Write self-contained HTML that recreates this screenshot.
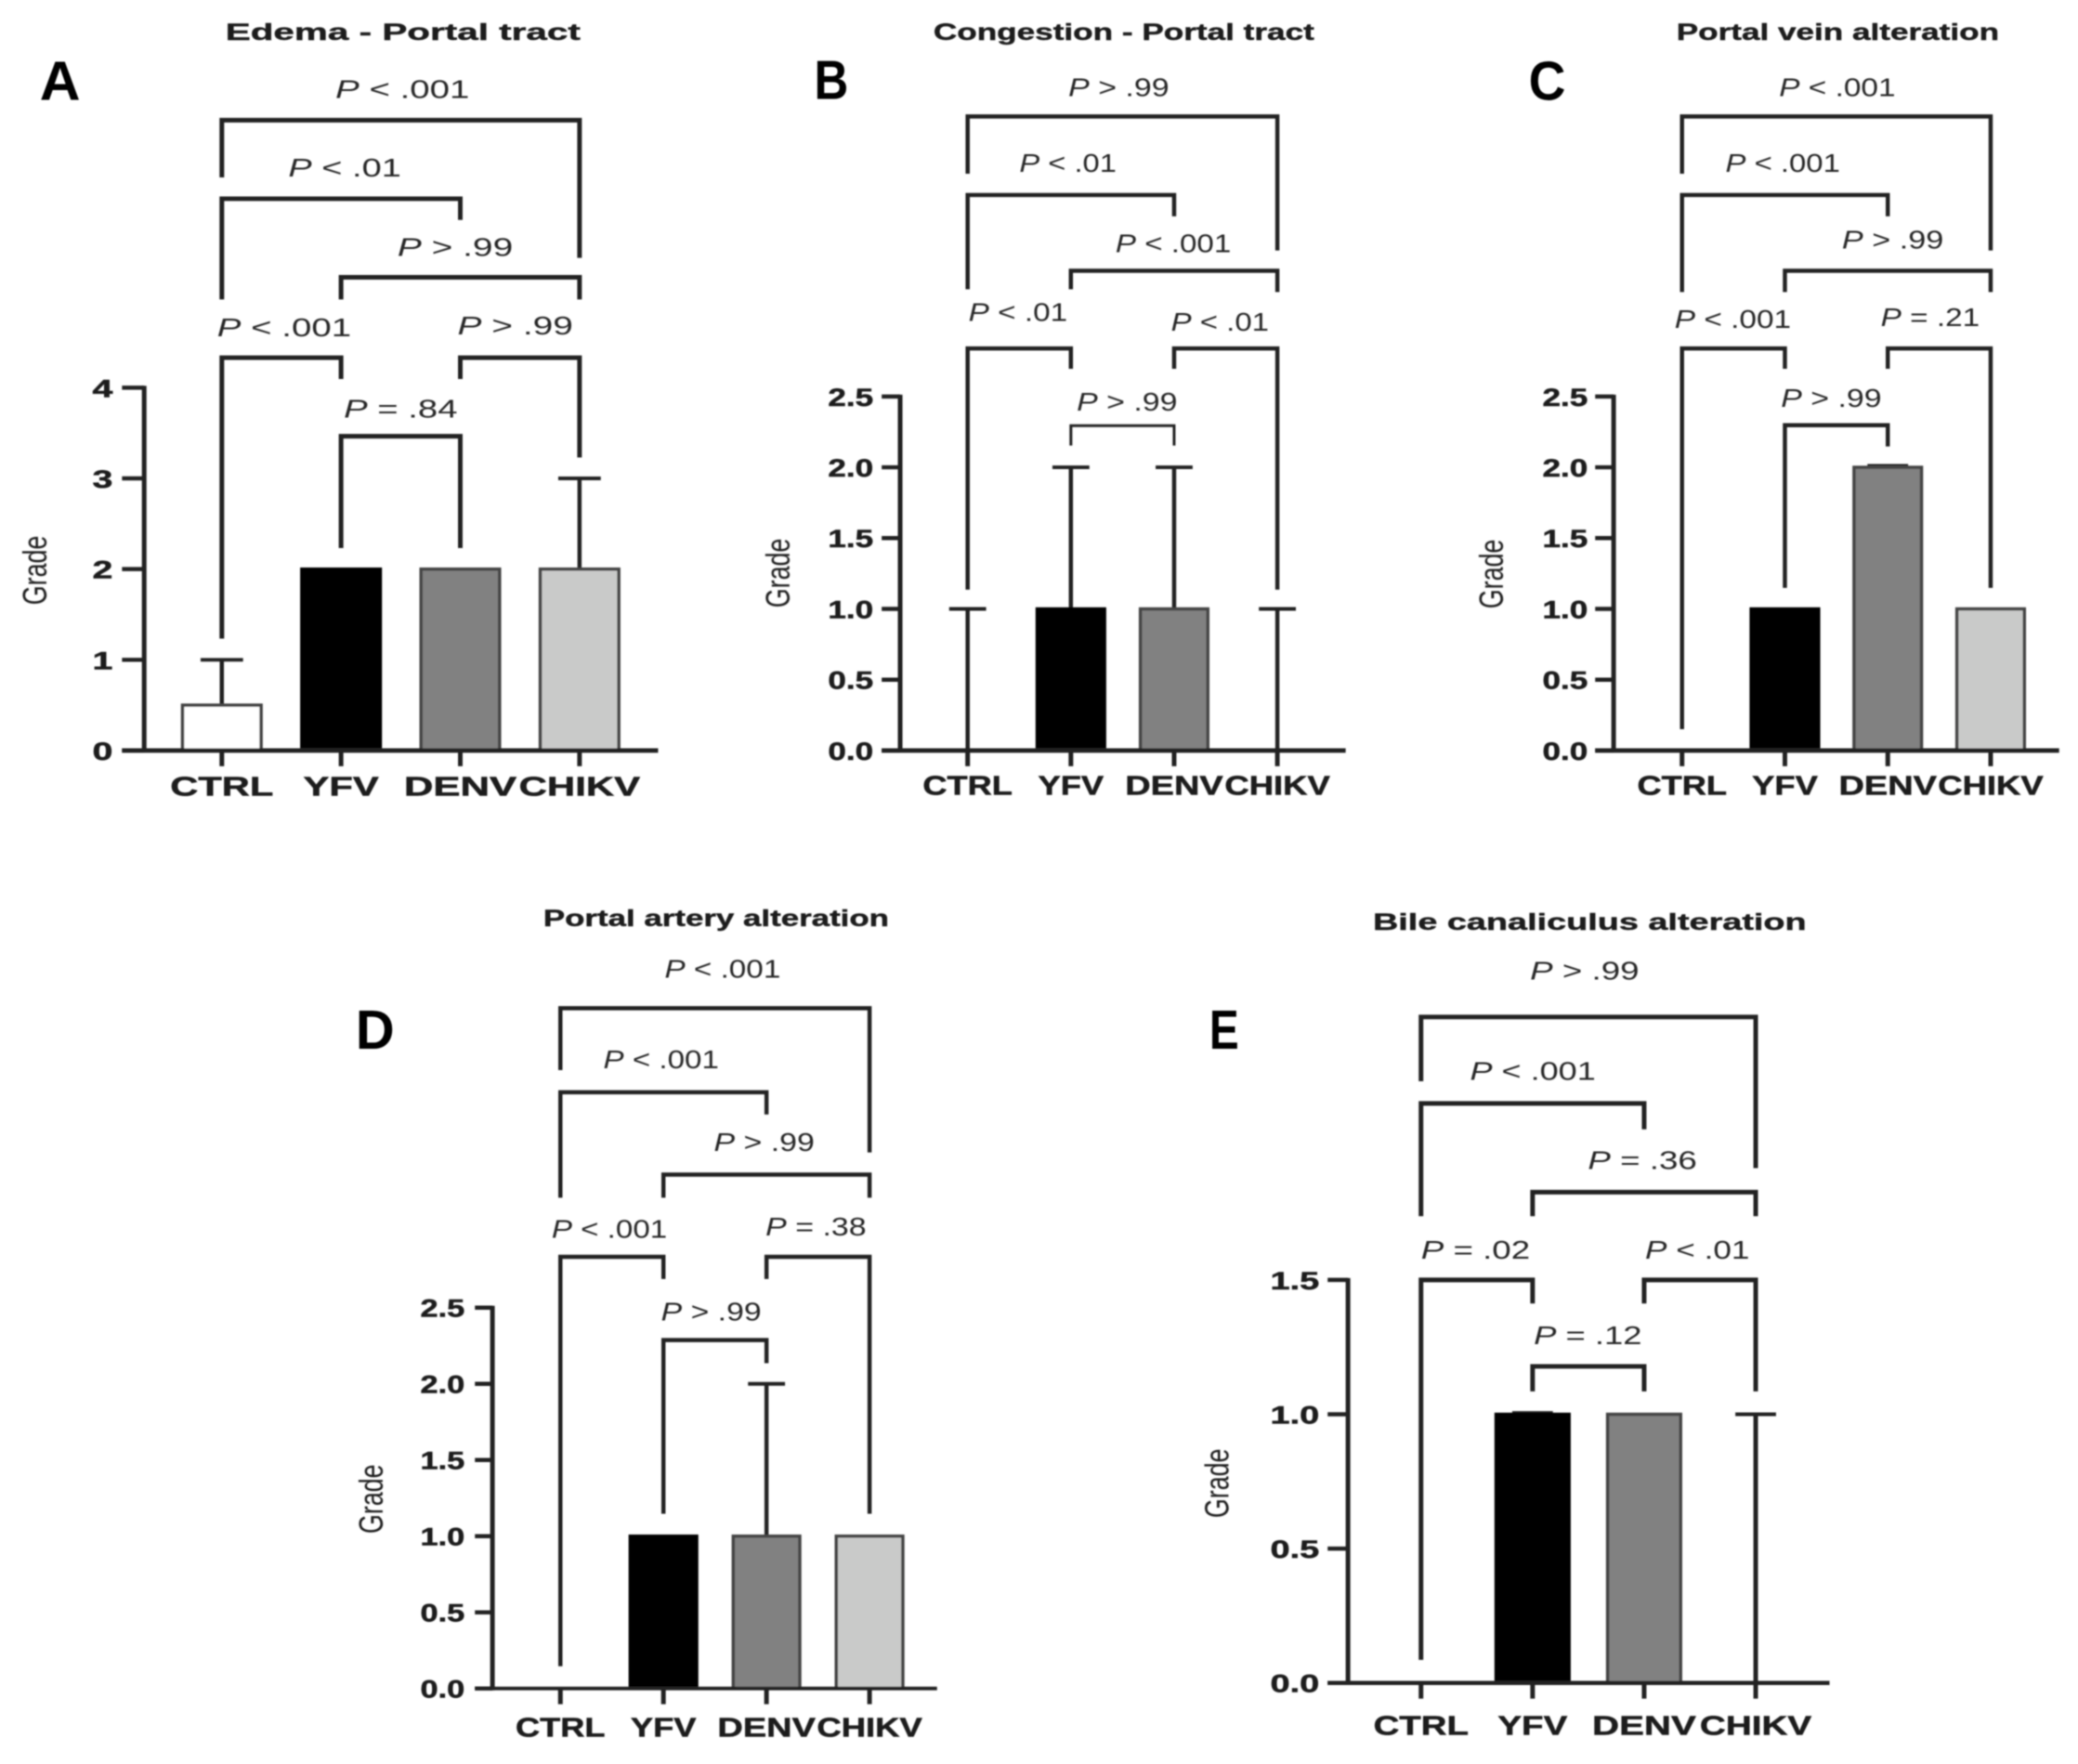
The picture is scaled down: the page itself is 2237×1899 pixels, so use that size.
<!DOCTYPE html>
<html lang="en">
<head>
<meta charset="utf-8">
<title>Histopathological grades by virus group</title>
<style>
html,body{margin:0;padding:0;background:#fff;}
svg{display:block;font-family:"Liberation Sans",Arial,sans-serif;}
</style>
</head>
<body>
<svg id="figure" width="2237" height="1899" viewBox="0 0 2237 1899" xmlns="http://www.w3.org/2000/svg">
<defs><filter id="soft" x="-2%" y="-2%" width="104%" height="104%"><feGaussianBlur stdDeviation="0.7"/></filter></defs>
<rect width="2237" height="1899" fill="#fff"/>
<g id="root" filter="url(#soft)"></g>
</svg>
<script>
const categories = ['CTRL', 'YFV', 'DENV', 'CHIKV'];
const barFills = ['#ffffff', '#030303', '#818181', '#c9cac9'];

const panelAValues = [0.5, 2, 2, 2];
const panelAErrorTops = [1, 2, 2, 3];
const panelATicks = [0, 1, 2, 3, 4];
const panelATickLabels = ['0', '1', '2', '3', '4'];
const panelAPLabels = ['< .001', '< .01', '> .99', '< .001', '> .99', '= .84'];

const panelBValues = [0, 1, 1, 0];
const panelBErrorTops = [1, 2, 2, 1];
const panelBTicks = [0, 0.5, 1, 1.5, 2, 2.5];
const panelBTickLabels = ['0.0', '0.5', '1.0', '1.5', '2.0', '2.5'];
const panelBPLabels = ['> .99', '< .01', '< .001', '< .01', '< .01', '> .99'];

const panelCValues = [0, 1, 2, 1];
const panelCErrorTops = [0, 1, 2.01, 1];
const panelCTicks = [0, 0.5, 1, 1.5, 2, 2.5];
const panelCTickLabels = ['0.0', '0.5', '1.0', '1.5', '2.0', '2.5'];
const panelCPLabels = ['< .001', '< .001', '> .99', '< .001', '= .21', '> .99'];

const panelDValues = [0, 1, 1, 1];
const panelDErrorTops = [0, 1, 2, 1];
const panelDTicks = [0, 0.5, 1, 1.5, 2, 2.5];
const panelDTickLabels = ['0.0', '0.5', '1.0', '1.5', '2.0', '2.5'];
const panelDPLabels = ['< .001', '< .001', '> .99', '< .001', '= .38', '> .99'];

const panelEValues = [0, 1, 1, 0];
const panelEErrorTops = [0, 1.005, 1, 1];
const panelETicks = [0, 0.5, 1, 1.5];
const panelETickLabels = ['0.0', '0.5', '1.0', '1.5'];
const panelEPLabels = ['> .99', '< .001', '= .36', '= .02', '< .01', '= .12'];

const NS = 'http://www.w3.org/2000/svg';
const root = document.getElementById('root');
const INK = '#222';
const PANEL_SCALE = 0.995;

function mk(tag, parent, attrs) {
  const el = document.createElementNS(NS, tag);
  for (const k in attrs) el.setAttribute(k, attrs[k]);
  parent.appendChild(el);
  return el;
}
function seg(parent, x1, y1, x2, y2, w, color) {
  return mk('line', parent, {x1: x1, y1: y1, x2: x2, y2: y2, stroke: color || INK, 'stroke-width': w});
}

function drawPanel(p) {
  const ox = p.origin[0];
  const oy = p.origin[1];
  const g = mk('g', root, {transform: 'translate(' + ox + ' ' + oy + ') scale(' + PANEL_SCALE + ') translate(' + (-ox) + ' ' + (-oy) + ')'});
  
  

  const xScale = i => p.x0 + i * p.step;
  const yScale = v => p.yBottom - (v / p.yMax) * (p.yBottom - p.yTop);

  const title = mk('text', g, {x: p.title[1], y: p.title[2], 'font-size': 25, 'font-weight': 'bold', fill: '#1a1a1a', stroke: '#1a1a1a', 'stroke-width': 0.4, textLength: p.title[3], lengthAdjust: 'spacingAndGlyphs'});
  title.textContent = p.title[0];
  
  

  const letter = mk('text', g, {x: p.letter[1], y: p.letter[2], 'font-size': 60, 'font-weight': 'bold', fill: '#000', textLength: p.letter[3], lengthAdjust: 'spacingAndGlyphs'});
  letter.textContent = p.letter[0];
  
  

  const grade = mk('text', g, {x: 0, y: 0, 'font-size': 36, fill: '#1a1a1a', 'text-anchor': 'middle', textLength: 75, lengthAdjust: 'spacingAndGlyphs', transform: 'translate(' + p.grade[0] + ' ' + p.grade[1] + ') rotate(-90)'});
  grade.textContent = 'Grade';
  
  

  p.errorTops.forEach((top, i) => {
    if (top <= p.values[i]) return;
    const eg = mk('g', g, {});
    
    
    seg(eg, xScale(i), yScale(p.values[i]), xScale(i), yScale(top), p.errW);
    seg(eg, xScale(i) - p.capHalf, yScale(top), xScale(i) + p.capHalf, yScale(top), 4);
  });

  p.values.forEach((v, i) => {
    if (v <= 0) return;
    const bar = mk('rect', g, {x: xScale(i) - p.barW / 2, y: yScale(v), width: p.barW, height: yScale(0) - yScale(v), fill: barFills[i], stroke: i === 1 ? '#030303' : '#444', 'stroke-width': 3.5});
    
    
  });

  const yAxis = seg(g, p.axisX, p.yTop - 2, p.axisX, p.yBottom + 2, 5);
  
  
  const xAxis = seg(g, p.tickLeft, p.yBottom, p.axisEnd, p.yBottom, p.xAxisW);
  
  

  p.ticks.forEach((t, i) => {
    const tick = seg(g, p.tickLeft, yScale(t), p.axisX, yScale(t), 4.5);
    
    
    const lab = mk('text', g, {x: p.tickRight, y: yScale(t) + 10, 'font-size': 27, 'font-weight': 'bold', fill: '#1a1a1a', stroke: '#1a1a1a', 'stroke-width': 0.5, 'text-anchor': 'end', textLength: p.tickW, lengthAdjust: 'spacingAndGlyphs'});
    lab.textContent = p.tickLabels[i];
    
    
  });

  const catWidths = [97, 71, 106, 114];
  categories.forEach((c, i) => {
    const tick = seg(g, xScale(i), p.yBottom, xScale(i), p.yBottom + 17, 5);
    
    
    const w = catWidths[i] * p.catK;
    const lab = mk('text', g, {x: xScale(i) - w / 2, y: p.catY, 'font-size': 29, 'font-weight': 'bold', fill: '#1a1a1a', stroke: '#1a1a1a', 'stroke-width': 0.5, textLength: w, lengthAdjust: 'spacingAndGlyphs'});
    lab.textContent = c;
    
    
  });

  p.brackets.forEach(b => {
    const xa = xScale(b[0]);
    const xb = xScale(b[1]);
    const path = mk('path', g, {d: 'M' + xa + ' ' + b[3] + 'V' + b[2] + 'H' + xb + 'V' + b[4], fill: 'none', stroke: INK, 'stroke-width': b[5] || p.brW});
    
    
  });

  p.pLabels.forEach((txt, i) => {
    const pos = p.pPos[i];
    const t = mk('text', g, {x: pos[0] - pos[2] / 2, y: pos[1], 'font-size': 28, fill: '#262626', textLength: pos[2], lengthAdjust: 'spacingAndGlyphs'});
    
    
    const it = mk('tspan', t, {'font-style': 'italic'});
    it.textContent = 'P';
    t.appendChild(document.createTextNode(' ' + txt));
  });
}

drawPanel({
  id: 'a', origin: [0, 0], values: panelAValues, errorTops: panelAErrorTops, ticks: panelATicks, tickLabels: panelATickLabels, pLabels: panelAPLabels,
  yMax: 4, yTop: 419.5, yBottom: 812, x0: 240, step: 129, barW: 85, capHalf: 23, errW: 4.5, brW: 5, xAxisW: 5,
  axisX: 156, tickLeft: 132, axisEnd: 712, tickRight: 122, tickW: 22, catY: 861, catK: 1.15,
  title: ['Edema - Portal tract', 244, 43, 384], letter: ['A', 43, 108, 44], grade: [50, 617],
  brackets: [[0,3,130,192,279],[0,2,215,324,238],[1,3,300,324,324],[0,1,387,691,410],[2,3,387,410,495],[1,2,472,593,593]],
  pPos: [[435.5,106,145],[373,191,122],[492.5,277,125],[307.5,364,145],[557.5,362,125],[433.5,452,123]]
});
drawPanel({
  id: 'b', origin: [780, 0], values: panelBValues, errorTops: panelBErrorTops, ticks: panelBTicks, tickLabels: panelBTickLabels, pLabels: panelBPLabels,
  yMax: 2.5, yTop: 429, yBottom: 812, x0: 1043, step: 111.7, barW: 73, capHalf: 20, errW: 4.5, brW: 4.5, xAxisW: 5,
  axisX: 970, tickLeft: 950, axisEnd: 1452, tickRight: 941, tickW: 49, catY: 860, catK: 1,
  title: ['Congestion - Portal tract', 1006, 43, 412], letter: ['B', 877, 107, 37], grade: [850, 620],
  brackets: [[0,3,126,188,271],[0,2,211,313,234],[1,3,293,313,316],[0,1,377,638,399],[2,3,377,399,638],[1,2,460.5,482,482,3]],
  pPos: [[1206.5,104,109],[1151.5,186,105],[1265.5,273,125],[1097.5,347,107],[1316,358,106],[1215.5,444,109]]
});
drawPanel({
  id: 'c', origin: [1560, 0], values: panelCValues, errorTops: panelCErrorTops, ticks: panelCTicks, tickLabels: panelCTickLabels, pLabels: panelCPLabels,
  yMax: 2.5, yTop: 429, yBottom: 812, x0: 1812, step: 111.3, barW: 73, capHalf: 22, errW: 3, brW: 4.5, xAxisW: 5,
  axisX: 1738, tickLeft: 1718, axisEnd: 2220, tickRight: 1710, tickW: 49, catY: 860, catK: 1,
  title: ['Portal vein alteration', 1806, 43, 349], letter: ['C', 1646, 108, 40], grade: [1618, 621],
  brackets: [[0,3,126,188,271],[0,2,211,316,234],[1,3,293,316,316],[0,1,377,789,399],[2,3,377,399,636],[1,2,460,636,483]],
  pPos: [[1980,104,126],[1921,186,124],[2040,269,110],[1867,355,126],[2080.5,353,107],[1973.5,440,109]]
});
drawPanel({
  id: 'd', origin: [360, 960], values: panelDValues, errorTops: panelDErrorTops, ticks: panelDTicks, tickLabels: panelDTickLabels, pLabels: panelDPLabels,
  yMax: 2.5, yTop: 1410, yBottom: 1822, x0: 604.5, step: 111.5, barW: 72, capHalf: 20, errW: 4.5, brW: 4.5, xAxisW: 4,
  axisX: 531, tickLeft: 512, axisEnd: 1012, tickRight: 501, tickW: 48, catY: 1874, catK: 1,
  title: ['Portal artery alteration', 586, 997, 374], letter: ['D', 383, 1130, 42], grade: [412, 1617],
  brackets: [[0,3,1086,1153,1242],[0,2,1177,1291,1201],[1,3,1266,1291,1291],[0,1,1355,1798,1379],[2,3,1355,1379,1633],[1,2,1445,1633,1470]],
  pPos: [[780,1053,125.5],[713.5,1151,125],[825,1240.5,109],[657.5,1334.5,125],[881,1332,109],[767.7,1423.6,108.5]]
});
drawPanel({
  id: 'e', origin: [1280, 960], values: panelEValues, errorTops: panelEErrorTops, ticks: panelETicks, tickLabels: panelETickLabels, pLabels: panelEPLabels,
  yMax: 1.5, yTop: 1380, yBottom: 1816, x0: 1531, step: 120.7, barW: 79, capHalf: 22, errW: 5, brW: 5, xAxisW: 4.5,
  axisX: 1452, tickLeft: 1430, axisEnd: 1973, tickRight: 1421, tickW: 53, catY: 1872, catK: 1.06,
  title: ['Bile canaliculus alteration', 1479, 1001, 469], letter: ['E', 1302, 1130, 32], grade: [1322.5, 1600],
  brackets: [[0,3,1095.5,1165,1259],[0,2,1189,1311,1217],[1,3,1285,1311,1311],[0,1,1380,1791,1405.5],[2,3,1380,1405.5,1500.6],[1,2,1473.5,1500.6,1500.6]],
  pPos: [[1708,1055,118],[1652,1163.5,136],[1770.6,1260,118],[1590,1357,118],[1830,1357,113],[1711.5,1449.5,117]]
});
</script>
</body>
</html>
